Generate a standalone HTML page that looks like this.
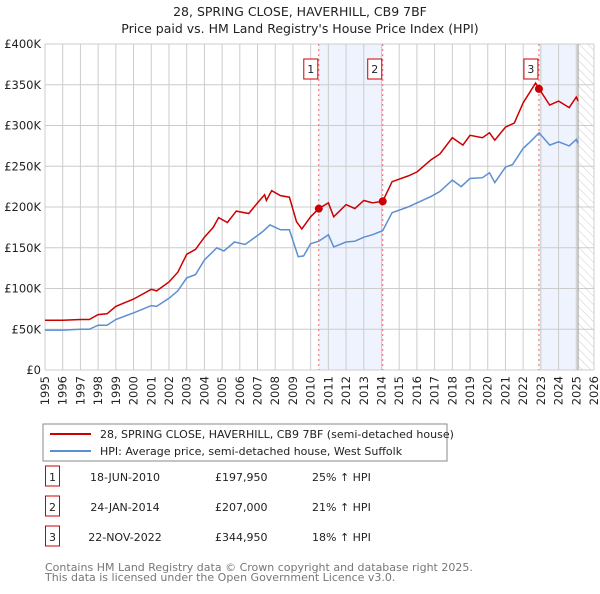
<!DOCTYPE html>
<html><head><meta charset="utf-8"><style>
body{margin:0;background:#fff;font-family:"DejaVu Sans","Liberation Sans",sans-serif;}
svg text{font-family:"DejaVu Sans","Liberation Sans",sans-serif;}
</style></head><body>
<svg id="c" width="600" height="590" xmlns="http://www.w3.org/2000/svg">
<defs><pattern id="hatch" width="6" height="6" patternUnits="userSpaceOnUse" patternTransform="rotate(-45)"><line x1="0" y1="0" x2="0" y2="6" stroke="#ccc" stroke-width="1"/></pattern></defs>
<text x="300" y="16" text-anchor="middle" font-size="12.5" fill="#222">28, SPRING CLOSE, HAVERHILL, CB9 7BF</text>
<text x="300" y="33" text-anchor="middle" font-size="12.5" fill="#222">Price paid vs. HM Land Registry's House Price Index (HPI)</text>
<g id="plot"></g>
<rect x="43" y="424" width="404" height="37" fill="#fff" stroke="#888"/>
<line x1="50" y1="434" x2="91" y2="434" stroke="#cc0000" stroke-width="2"/>
<text x="100" y="438" font-size="11" fill="#222">28, SPRING CLOSE, HAVERHILL, CB9 7BF (semi-detached house)</text>
<line x1="50" y1="451" x2="91" y2="451" stroke="#5b8fd0" stroke-width="2"/>
<text x="100" y="455" font-size="11" fill="#222">HPI: Average price, semi-detached house, West Suffolk</text>
<g id="table" font-size="11" fill="#222"></g>
<text x="45" y="571" font-size="11" fill="#777">Contains HM Land Registry data © Crown copyright and database right 2025.</text>
<text x="45" y="581" font-size="11" fill="#777">This data is licensed under the Open Government Licence v3.0.</text>
</svg>
<script>
const hpiYears=[1995,1996,1997,1997.5,1998,1998.5,1999,2000,2001,2001.3,2002,2002.5,2003,2003.5,2004,2004.7,2005.1,2005.7,2006.3,2007,2007.3,2007.7,2008.3,2008.8,2009.3,2009.6,2010,2010.46,2011,2011.3,2012,2012.5,2013,2013.5,2014.07,2014.6,2015.5,2016,2016.8,2017.3,2018,2018.5,2019,2019.7,2020.1,2020.4,2021,2021.4,2022,2022.4,2022.9,2023.5,2024,2024.6,2025,2025.1];
const hpiValues=[49,49,50,50,55,55,62,70,79,78,88,97,113,117,135,150,146,157,154,165,170,178,172,172,139,140,155,158,166,151,157,158,163,166,171,193,200,205,213,219,233,225,235,236,242,230,249,252,272,280,291,276,280,275,283,278];
const ppYears=[1995,1996,1997,1997.5,1998,1998.5,1999,2000,2001,2001.3,2002,2002.5,2003,2003.5,2004,2004.5,2004.8,2005.3,2005.8,2006.5,2007,2007.4,2007.5,2007.8,2008.3,2008.8,2009.2,2009.5,2010,2010.46,2011,2011.3,2012,2012.5,2013,2013.5,2014.07,2014.6,2015.5,2016,2016.8,2017.3,2018,2018.6,2019,2019.7,2020.1,2020.4,2021,2021.5,2022,2022.7,2022.9,2023.5,2024,2024.6,2025,2025.1];
const ppValues=[61,61,62,62,68,69,78,87,99,97,108,120,142,148,163,175,187,181,195,192,205,215,208,220,214,212,182,173,188,198,205,188,203,198,208,205,207,231,238,243,258,265,285,276,288,285,291,282,298,303,328,352,345,325,330,322,335,330];
const saleYears=[2010.46,2014.07,2022.89];
const saleValues=[197.95,207,344.95];
const saleLabels=["1","2","3"];
const saleDates=["18-JUN-2010","24-JAN-2014","22-NOV-2022"];
const salePrices=["£197,950","£207,000","£344,950"];
const saleHpi=["25% ↑ HPI","21% ↑ HPI","18% ↑ HPI"];
const yTicks=[0,50,100,150,200,250,300,350,400];
const yTickLabels=["£0","£50K","£100K","£150K","£200K","£250K","£300K","£350K","£400K"];
const xTicks=[1995,1996,1997,1998,1999,2000,2001,2002,2003,2004,2005,2006,2007,2008,2009,2010,2011,2012,2013,2014,2015,2016,2017,2018,2019,2020,2021,2022,2023,2024,2025,2026];

const X0=45,X1=594,Y0=370,Y1=44;
const xs=y=>X0+(y-1995)/31*(X1-X0);
const ys=v=>Y0-v/400*(Y0-Y1);
const NS="http://www.w3.org/2000/svg";
const plot=document.getElementById('plot');
function mk(tag,attrs,parent){const e=document.createElementNS(NS,tag);for(const k in attrs)e.setAttribute(k,attrs[k]);(parent||plot).appendChild(e);return e;}
let e;
e=mk('rect',{x:X0,y:Y1,width:X1-X0,height:Y0-Y1,fill:'#fff'});


e=mk('rect',{x:xs(saleYears[0]),y:Y1,width:xs(saleYears[1])-xs(saleYears[0]),height:Y0-Y1,fill:'#eef3fd'});


e=mk('rect',{x:xs(saleYears[2]),y:Y1,width:xs(2025.1)-xs(saleYears[2]),height:Y0-Y1,fill:'#eef3fd'});


e=mk('rect',{x:xs(2025.1),y:Y1,width:X1-xs(2025.1),height:Y0-Y1,fill:'url(#hatch)'});


xTicks.forEach(t=>{e=mk('line',{x1:xs(t),x2:xs(t),y1:Y1,y2:Y0,stroke:'#ccc'});


e=mk('text',{x:0,y:0,transform:`translate(${xs(t)+4},${Y0+6}) rotate(-90)`,'text-anchor':'end','font-size':11.5,fill:'#222'});e.textContent=t;

});
yTicks.forEach((t,i)=>{e=mk('line',{x1:X0,x2:X1,y1:ys(t),y2:ys(t),stroke:'#ccc'});


e=mk('text',{x:X0-4,y:ys(t)+4,'text-anchor':'end','font-size':11.5,fill:'#222'});e.textContent=yTickLabels[i];

});
e=mk('line',{x1:xs(2025.1),x2:xs(2025.1),y1:Y1,y2:Y0,stroke:'#999'});


saleYears.forEach((s,i)=>{e=mk('line',{x1:xs(s),x2:xs(s),y1:Y1,y2:Y0,stroke:'#e66','stroke-dasharray':'2,3'});

});
function path(xa,va){return xa.map((y,i)=>(i?'L':'M')+xs(y).toFixed(1)+','+ys(va[i]).toFixed(1)).join('');}
e=mk('path',{d:path(hpiYears,hpiValues),fill:'none',stroke:'#5b8fd0','stroke-width':1.5});


e=mk('path',{d:path(ppYears,ppValues),fill:'none',stroke:'#cc0000','stroke-width':1.5});


saleYears.forEach((s,i)=>{e=mk('circle',{cx:xs(s),cy:ys(saleValues[i]),r:4,fill:'#cc0000'});


e=mk('rect',{x:xs(s)-15,y:59,width:14,height:20,fill:'#fff',stroke:'#cc0000'});


e=mk('text',{x:xs(s)-8,y:73,'text-anchor':'middle','font-size':11,fill:'#222'});e.textContent=saleLabels[i];

});
const tb=document.getElementById('table');
saleLabels.forEach((l,i)=>{const y=483+i*30;
e=mk('rect',{x:45.5,y:y-17,width:14,height:20,fill:'#fff',stroke:'#cc0000'},tb);


e=mk('text',{x:52.5,y:y-2,'text-anchor':'middle'},tb);e.textContent=l;


e=mk('text',{x:125,y:y-2,'text-anchor':'middle'},tb);e.textContent=saleDates[i];


e=mk('text',{x:215,y:y-2},tb);e.textContent=salePrices[i];


e=mk('text',{x:312,y:y-2},tb);e.textContent=saleHpi[i];

});
</script>
</body></html>
